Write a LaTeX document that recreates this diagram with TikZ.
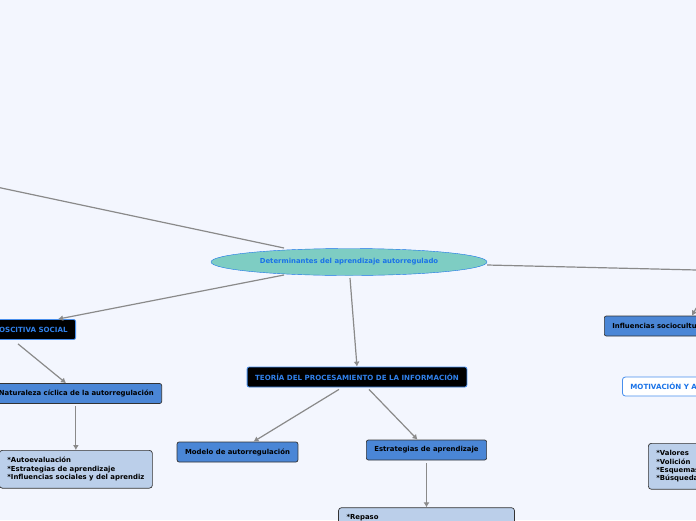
\documentclass[tikz,border=0pt]{standalone}
\usepackage{fontspec}
\setmainfont{DejaVu Sans}
\usepackage{xcolor}
\usepackage{tikz}
\usetikzlibrary{positioning,arrows.meta,calc,shapes.geometric}
\definecolor{bgblue}{HTML}{F3F6FE}
\definecolor{rootfill}{HTML}{7ECDC3}
\definecolor{linkblue}{HTML}{1A73E8}
\definecolor{midblue}{HTML}{4A86D6}
\definecolor{listblue}{HTML}{BBCFEA}
\definecolor{edgegray}{HTML}{8A8A8A}

\begin{document}
\begin{tikzpicture}[
  x=1pt, y=-1pt,
  every node/.style={font=\fontsize{6.9}{8.4}\selectfont\bfseries},
  rootnode/.style={draw=linkblue, ellipse, fill=rootfill, text=linkblue, minimum width=276pt, minimum height=27pt, inner sep=0pt},
  dblock/.style={draw=linkblue!80, line width=0.8pt, rounded corners=2pt, fill=black, text=linkblue!90, font=\fontsize{7.1}{8.4}\selectfont\bfseries, minimum height=20pt, inner xsep=8pt, inner ysep=0pt},
  block/.style={draw=black!80, line width=0.7pt, rounded corners=2pt, fill=midblue, text=black, minimum height=20pt, inner xsep=8pt, inner ysep=0pt},
  lblock/.style={draw=black!80, line width=0.7pt, rounded corners=3pt, fill=listblue, align=left, inner xsep=8pt, inner ysep=7pt},
  wblock/.style={draw=linkblue!80, line width=0.8pt, rounded corners=3pt, fill=white, text=linkblue, font=\fontsize{7.1}{8.4}\selectfont\bfseries, minimum height=19pt, inner xsep=8pt, inner ysep=0pt},
  arr/.style={-{Latex[length=5pt,width=6pt]}, draw=edgegray, line width=1.2pt}
]
  \useasboundingbox (0,0) rectangle (696,520);
  \fill[bgblue] (0,0) rectangle (696,520);
  \clip (0,0) rectangle (696,520);

  \node[rootnode] (root) at (349,262) {Determinantes del aprendizaje autorregulado};
  \node[dblock, anchor=east] (cogn) at (76,329.5) {TEORÍA COGNOSCITIVA SOCIAL};
  \node[block, anchor=east] (natur) at (162,393.5) {Naturaleza cíclica de la autorregulación};
  \node[lblock, anchor=north west] (natlist) at (-1,450) {*Autoevaluación\\*Estrategias de aprendizaje\\*Influencias sociales y del aprendiz};
  \node[dblock] (tpi) at (357,377) {TEORÍA DEL PROCESAMIENTO DE LA INFORMACIÓN};
  \node[block] (modelo) at (237.5,452) {Modelo de autorregulación};
  \node[block] (estrat) at (426.5,450) {Estrategias de aprendizaje};
  \node[lblock, below=47pt of estrat, text width=160pt, text depth=24pt] (repaso) {*Repaso};
  \node[block, anchor=west] (socio) at (604,326) {Influencias socioculturales};
  \node[wblock, anchor=west] (motiv) at (622,386.5) {MOTIVACIÓN Y AUTORREGULACIÓN};
  \node[lblock, anchor=north west] (valores) at (648,443) {*Valores\\*Volición\\*Esquemas\\*Búsqueda};

  \coordinate (offnw) at (-60,175);
  \coordinate (offe) at (760,271.5);
  \coordinate (offse) at (712,280);

  \draw[arr] ($(root.center)+(-65,-14)$) -- (offnw);
  \draw[arr] ($(root.center)+(-65,13)$) -- ($(cogn.north east)+(-18,0)$);
  \draw[arr] ($(root.center)+(1,16)$) -- (tpi.north);
  \draw[arr] ($(root.east)+(0,3)$) -- (offe);
  \draw[arr] ($(cogn.south east)+(-58,4)$) -- ($(natur.north east)+(-96,0)$);
  \draw[arr] ($(natur.south -| natlist.north)+(0,2)$) -- (natlist.north);
  \draw[arr] ($(tpi.south)+(-18,2)$) -- ($(modelo.north)+(16,0)$);
  \draw[arr] ($(tpi.south)+(12,2)$) -- ($(estrat.north)+(-9,0)$);
  \draw[arr] ($(estrat.south)+(0,3)$) -- (repaso.north);
  \draw[arr] (offse) -- ($(socio.north west)+(88,0)$);
\end{tikzpicture}
\end{document}
